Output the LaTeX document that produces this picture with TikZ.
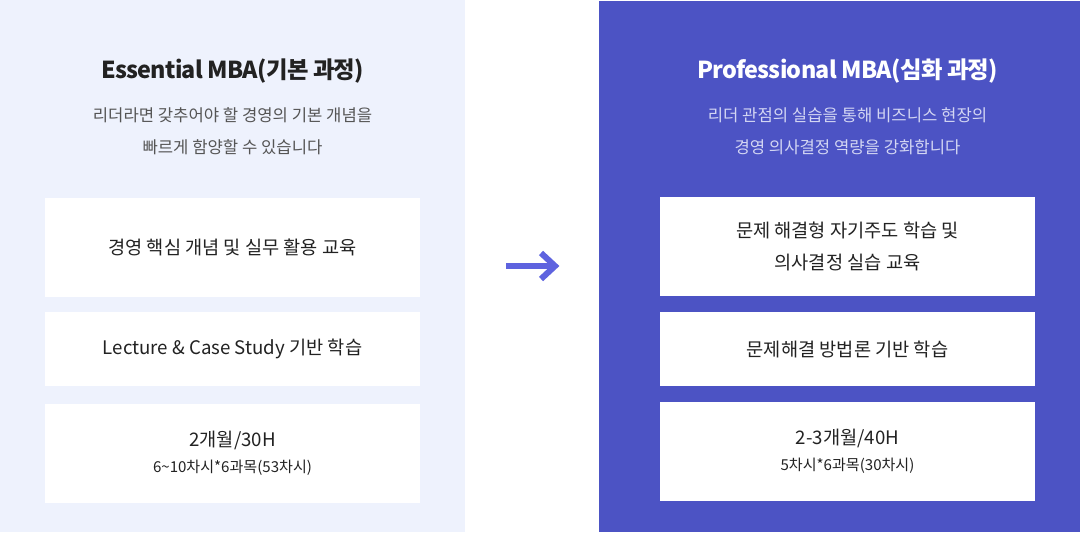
\documentclass[tikz,border=0pt]{standalone}
\usepackage{fontspec}
\setmainfont{Noto Sans CJK KR}
\newfontfamily\headfont[LetterSpace=-3]{Noto Sans CJK KR}
\usetikzlibrary{positioning}
\definecolor{paleBg}{HTML}{EEF2FD}
\definecolor{deepBg}{HTML}{4C53C4}
\definecolor{arrowBlue}{HTML}{5E63DF}
\definecolor{inkDark}{HTML}{222222}
\definecolor{inkGray}{HTML}{555555}
\definecolor{inkPale}{HTML}{D3D6F3}
\tikzset{
  course/.style={font=\headfont\bfseries\fontsize{17.5}{20}\selectfont,inner sep=0pt},
  blurb/.style={font=\fontsize{12.5}{24}\selectfont,align=center,inner sep=0pt},
  card/.style={fill=white,minimum width=281.25pt,inner sep=0pt,align=center,text=inkDark,
    font=\fontsize{14}{23.5}\selectfont},
  arrowline/.style={arrowBlue,line width=4.5pt,line join=miter}
}
\begin{document}
\begin{tikzpicture}[x=0.75pt,y=-0.75pt]
  \useasboundingbox (0,0) rectangle (1080,532);
  % panels
  \fill[paleBg] (0,0) rectangle (465,532);
  \fill[deepBg] (599,1) rectangle (1080,532);
  % left column
  \node[course,text=inkDark] (essT) at (232.5,71) {Essential MBA(기본 과정)};
  \node[blurb,text=inkGray] (essS) at (232.5,131) {리더라면 갖추어야 할 경영의 기본 개념을\\빠르게 함양할 수 있습니다};
  \node[card,minimum height=74.25pt] (essA) at (232.5,247.5) {경영 핵심 개념 및 실무 활용 교육};
  \node[card,minimum height=55.5pt] (essB) at (232.5,349) {Lecture \& Case Study 기반 학습};
  \node[card,minimum height=74.25pt] (essC) at (232.5,453.5) {2개월/30H\\[-4pt]{\fontsize{11.3}{14}\selectfont 6\textasciitilde10차시*6과목(53차시)}};
  % right column
  \node[course,text=white] (proT) at (847.5,71) {Professional MBA(심화 과정)};
  \node[blurb,text=inkPale] (proS) at (847.5,131) {리더 관점의 실습을 통해 비즈니스 현장의\\경영 의사결정 역량을 강화합니다};
  \node[card,minimum height=74.25pt] (proA) at (847.5,246.5) {문제 해결형 자기주도 학습 및\\의사결정 실습 교육};
  \node[card,minimum height=55.5pt] (proB) at (847.5,349) {문제해결 방법론 기반 학습};
  \node[card,minimum height=74.25pt] (proC) at (847.5,451.5) {2-3개월/40H\\[-4pt]{\fontsize{11.3}{14}\selectfont 5차시*6과목(30차시)}};
  % arrow
  \coordinate (arrS) at (506,266);
  \coordinate (arrE) at (555,266);
  \draw[arrowline] (arrS) -- (arrE);
  \draw[arrowline] ([shift={(-14,-13)}]arrE) -- (arrE) -- ([shift={(-14,13)}]arrE);
\end{tikzpicture}
\end{document}
